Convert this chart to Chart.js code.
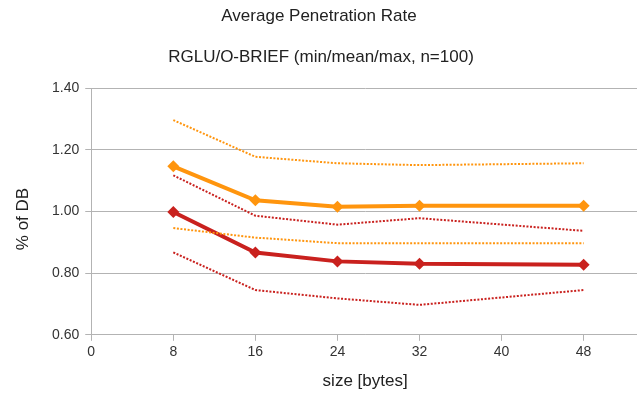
<!DOCTYPE html>
<html>
<head>
<meta charset="utf-8">
<script src="https://cdn.jsdelivr.net/npm/chart.js@4"></script>
<style>
  html, body { margin: 0; padding: 0; background: #fff; overflow: hidden; }
  #wrap { width: 645px; height: 396px; }
</style>
</head>
<body>
<div id="wrap"><canvas id="myChart"></canvas></div>
<script>
// data
const sizes = [8, 16, 24, 32, 48];
const orangeMax  = [1.296, 1.177, 1.156, 1.150, 1.156];
const orangeMean = [1.146, 1.036, 1.015, 1.018, 1.018];
const orangeMin  = [0.946, 0.915, 0.897, 0.897, 0.897];
const redMax  = [1.117, 0.986, 0.957, 0.978, 0.937];
const redMean = [0.998, 0.867, 0.838, 0.830, 0.827];
const redMin  = [0.867, 0.745, 0.718, 0.697, 0.745];
const xTicks = [0, 8, 16, 24, 32, 40, 48];
const titleText = 'Average Penetration Rate';
const subtitleText = 'RGLU/O-BRIEF (min/mean/max, n=100)';
const yTitleText = '% of DB';

const ORANGE = '#ff950e';
const RED = '#c9211e';
const FONT = "'Liberation Sans', Arial, sans-serif";

function pts(vals) {
  return vals.map((v, i) => ({ x: sizes[i], y: v }));
}
function dotted(vals, color) {
  return {
    data: pts(vals), borderColor: color, borderWidth: 2, borderDash: [2, 1.6],
    pointRadius: 0, fill: false, tension: 0
  };
}
function solid(vals, color) {
  return {
    data: pts(vals), borderColor: color, backgroundColor: color, borderWidth: 4,
    pointStyle: 'rectRot', pointRadius: 6, pointBorderWidth: 0, fill: false, tension: 0
  };
}

// titles are centred on the page, not on the (wider) canvas
const headings = {
  id: 'headings',
  afterDraw(chart) {
    const c = chart.ctx;
    c.save();
    c.fillStyle = '#222';
    c.textAlign = 'center';
    c.textBaseline = 'middle';
    c.font = '17px ' + FONT;
    c.fillText(titleText, 319, 16);
    c.fillText(subtitleText, 321, 57);
    c.translate(23, 219);
    c.rotate(-Math.PI / 2);
    c.fillText(yTitleText, 0, 0);
    c.restore();
  }
};

const ctx = document.getElementById('myChart');
new Chart(ctx, {
  type: 'line',
  data: {
    datasets: [
      dotted(orangeMax, ORANGE),
      dotted(orangeMin, ORANGE),
      dotted(redMax, RED),
      dotted(redMin, RED),
      solid(orangeMean, ORANGE),
      solid(redMean, RED)
    ]
  },
  options: {
    responsive: true,
    maintainAspectRatio: false,
    animation: false,
    layout: { padding: { left: 46, right: 0, top: 88, bottom: 0 } },
    plugins: {
      legend: { display: false },
      tooltip: { enabled: false }
    },
    scales: {
      x: {
        type: 'linear', min: 0, max: 53.4,
        afterBuildTicks: axis => { axis.ticks = xTicks.map(v => ({ value: v })); },
        grid: { color: '#b3b3b3', drawOnChartArea: false, tickLength: 6 },
        border: { color: '#b3b3b3', width: 1 },
        ticks: { color: '#333', font: { family: FONT, size: 14 }, padding: 3, maxRotation: 0 },
        title: { display: true, text: 'size [bytes]', color: '#222', font: { family: FONT, size: 17 }, padding: { top: 8 } }
      },
      y: {
        min: 0.6, max: 1.4,
        ticks: { stepSize: 0.2, color: '#333', font: { family: FONT, size: 14 }, padding: 6,
          callback: v => v.toFixed(2) },
        grid: { color: '#b3b3b3', tickLength: 6 },
        border: { color: '#b3b3b3', width: 1 }
      }
    }
  },
  plugins: [headings]
});
</script>
</body>
</html>
